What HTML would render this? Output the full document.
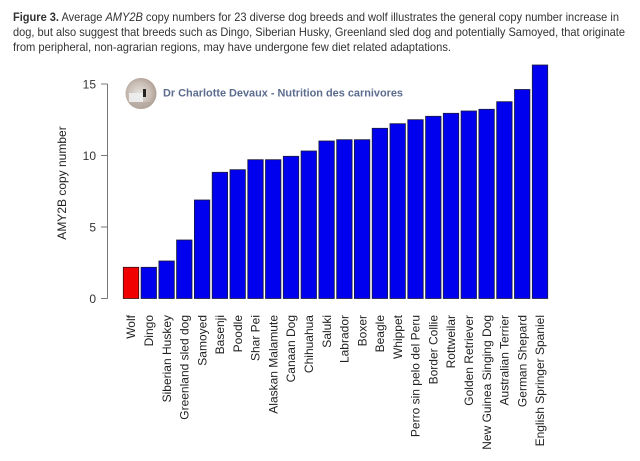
<!DOCTYPE html>
<html>
<head>
<meta charset="utf-8">
<style>
html,body{margin:0;padding:0;background:#fff;}
svg{display:block;}
</style>
</head>
<body>
<svg width="640" height="461" viewBox="0 0 640 461" xmlns="http://www.w3.org/2000/svg">
<rect width="640" height="461" fill="#fff"/>
<!-- Caption -->
<g font-family="Liberation Sans, Arial, sans-serif" font-size="12" fill="#333">
<text x="13" y="21" textLength="606" lengthAdjust="spacingAndGlyphs"><tspan font-weight="bold">Figure 3.</tspan> Average <tspan font-style="italic">AMY2B</tspan> copy numbers for 23 diverse dog breeds and wolf illustrates the general copy number increase in</text>
<text x="13" y="36" textLength="612" lengthAdjust="spacingAndGlyphs">dog, but also suggest that breeds such as Dingo, Siberian Husky, Greenland sled dog and potentially Samoyed, that originate</text>
<text x="13" y="51" textLength="438" lengthAdjust="spacingAndGlyphs">from peripheral, non-agrarian regions, may have undergone few diet related adaptations.</text>
</g>

<!-- Logo -->
<defs>
<radialGradient id="lg" cx="0.45" cy="0.5" r="0.6">
<stop offset="0" stop-color="#e6e2de"/>
<stop offset="0.6" stop-color="#c9bdb4"/>
<stop offset="1" stop-color="#a8988c"/>
</radialGradient>
<clipPath id="cc"><circle cx="141" cy="93.5" r="15.5"/></clipPath>
</defs>
<circle cx="141" cy="93.5" r="15.5" fill="url(#lg)"/>
<g clip-path="url(#cc)">
<rect x="129" y="93" width="14" height="9" fill="#eeeef0" opacity="0.9"/>
<rect x="143" y="89" width="3" height="8" fill="#222"/>
<rect x="125" y="102" width="32" height="8" fill="#b0a49a" opacity="0.6"/>
</g>
<text x="163" y="96.5" font-family="Liberation Sans, Arial, sans-serif" font-size="11" font-weight="bold" fill="#5b6c8e" textLength="240" lengthAdjust="spacingAndGlyphs">Dr Charlotte Devaux - Nutrition des carnivores</text>

<!-- Y axis -->
<g stroke="#777" stroke-width="1" fill="none">
<line x1="107.5" y1="84" x2="107.5" y2="298.5"/>
<line x1="101" y1="84" x2="107.5" y2="84"/>
<line x1="101" y1="155.5" x2="107.5" y2="155.5"/>
<line x1="101" y1="227" x2="107.5" y2="227"/>
<line x1="101" y1="298.5" x2="107.5" y2="298.5"/>
</g>
<g font-family="Liberation Sans, Arial, sans-serif" font-size="12" fill="#333" text-anchor="end">
<text x="96" y="88.5">15</text>
<text x="96" y="160">10</text>
<text x="96" y="231.5">5</text>
<text x="96" y="303">0</text>
</g>
<text transform="translate(66,183) rotate(-90)" text-anchor="middle" font-family="Liberation Sans, Arial, sans-serif" font-size="12" fill="#222">AMY2B copy number</text>

<!-- Bars -->
<g stroke="#1a1a3a" stroke-width="0.8">
<rect x="123.3" y="267.3" width="15.4" height="31.2" fill="#f00000" stroke="#3a1010"/>
<rect x="141.1" y="267.3" width="15.4" height="31.2" fill="#0000ee"/>
<rect x="158.9" y="261" width="15.4" height="37.5" fill="#0000ee"/>
<rect x="176.6" y="240" width="15.4" height="58.5" fill="#0000ee"/>
<rect x="194.4" y="200" width="15.4" height="98.5" fill="#0000ee"/>
<rect x="212.2" y="172.3" width="15.4" height="126.2" fill="#0000ee"/>
<rect x="230" y="169.7" width="15.4" height="128.8" fill="#0000ee"/>
<rect x="247.8" y="159.7" width="15.4" height="138.8" fill="#0000ee"/>
<rect x="265.5" y="159.7" width="15.4" height="138.8" fill="#0000ee"/>
<rect x="283.3" y="156.3" width="15.4" height="142.2" fill="#0000ee"/>
<rect x="301.1" y="151" width="15.4" height="147.5" fill="#0000ee"/>
<rect x="318.9" y="141" width="15.4" height="157.5" fill="#0000ee"/>
<rect x="336.7" y="139.7" width="15.4" height="158.8" fill="#0000ee"/>
<rect x="354.4" y="139.7" width="15.4" height="158.8" fill="#0000ee"/>
<rect x="372.2" y="128.3" width="15.4" height="170.2" fill="#0000ee"/>
<rect x="390" y="123.7" width="15.4" height="174.8" fill="#0000ee"/>
<rect x="407.8" y="119.7" width="15.4" height="178.8" fill="#0000ee"/>
<rect x="425.6" y="116.3" width="15.4" height="182.2" fill="#0000ee"/>
<rect x="443.3" y="113.3" width="15.4" height="185.2" fill="#0000ee"/>
<rect x="461.1" y="111" width="15.4" height="187.5" fill="#0000ee"/>
<rect x="478.9" y="109.3" width="15.4" height="189.2" fill="#0000ee"/>
<rect x="496.7" y="101.7" width="15.4" height="196.8" fill="#0000ee"/>
<rect x="514.5" y="89.5" width="15.4" height="209" fill="#0000ee"/>
<rect x="532.3" y="65" width="15.4" height="233.5" fill="#0000ee"/>
</g>

<!-- X labels -->
<g font-family="Liberation Sans, Arial, sans-serif" font-size="12" fill="#222" text-anchor="end">
<text transform="translate(135.2,315) rotate(-90)">Wolf</text>
<text transform="translate(153,315) rotate(-90)">Dingo</text>
<text transform="translate(170.8,315) rotate(-90)">Siberian Huskey</text>
<text transform="translate(188.5,315) rotate(-90)">Greenland sled dog</text>
<text transform="translate(206.3,315) rotate(-90)">Samoyed</text>
<text transform="translate(224.1,315) rotate(-90)">Basenji</text>
<text transform="translate(241.9,315) rotate(-90)">Poodle</text>
<text transform="translate(259.7,315) rotate(-90)">Shar Pei</text>
<text transform="translate(277.4,315) rotate(-90)">Alaskan Malamute</text>
<text transform="translate(295.2,315) rotate(-90)">Canaan Dog</text>
<text transform="translate(313,315) rotate(-90)">Chihuahua</text>
<text transform="translate(330.8,315) rotate(-90)">Saluki</text>
<text transform="translate(348.6,315) rotate(-90)">Labrador</text>
<text transform="translate(366.3,315) rotate(-90)">Boxer</text>
<text transform="translate(384.1,315) rotate(-90)">Beagle</text>
<text transform="translate(401.9,315) rotate(-90)">Whippet</text>
<text transform="translate(419.7,315) rotate(-90)">Perro sin pelo del Peru</text>
<text transform="translate(437.5,315) rotate(-90)">Border Collie</text>
<text transform="translate(455.2,315) rotate(-90)">Rottweilar</text>
<text transform="translate(473,315) rotate(-90)">Golden Retriever</text>
<text transform="translate(490.8,315) rotate(-90)">New Guinea Singing Dog</text>
<text transform="translate(508.6,315) rotate(-90)">Australian Terrier</text>
<text transform="translate(526.4,315) rotate(-90)">German Shepard</text>
<text transform="translate(544.2,315) rotate(-90)">English Springer Spaniel</text>
</g>
</svg>
</body>
</html>
